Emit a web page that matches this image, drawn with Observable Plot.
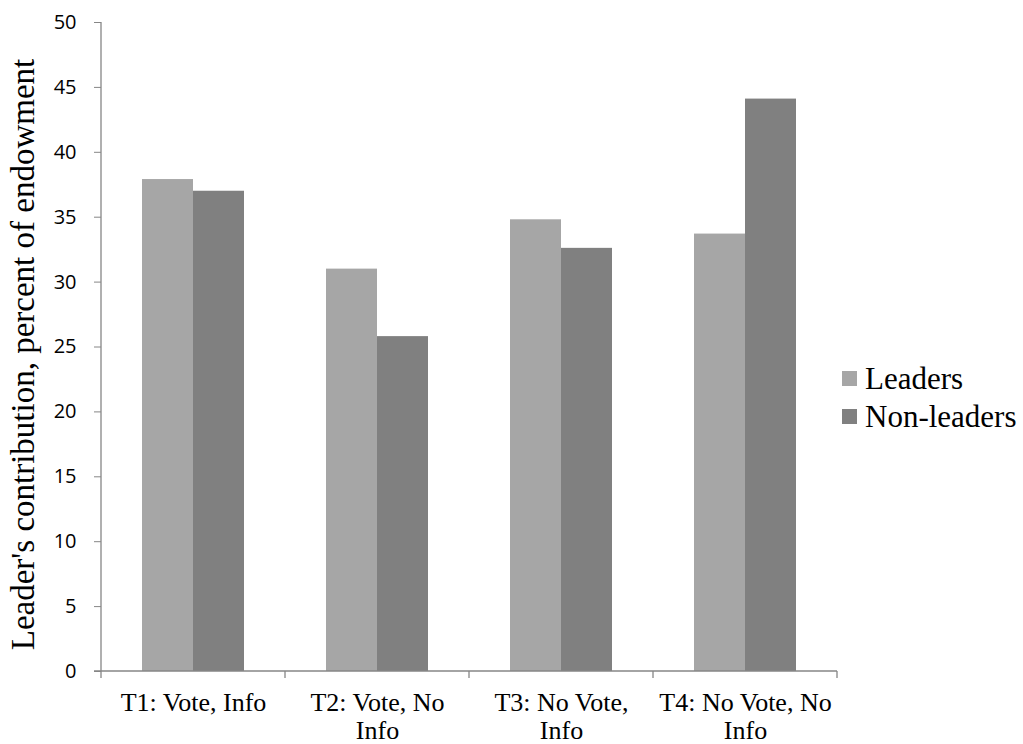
<!DOCTYPE html>
<html>
<head>
<meta charset="utf-8">
<script src="https://cdn.jsdelivr.net/npm/d3@7"></script>
<script src="https://cdn.jsdelivr.net/npm/@observablehq/plot@0.6"></script>
<style>
  html, body { margin: 0; padding: 0; background: #fff; }
  #chart svg { display: block; }
</style>
</head>
<body>
<div id="chart"></div>
<script>
// Treatments and the two groups compared in each
const categories = ["T1", "T2", "T3", "T4"];
const categoryLabels = ["T1: Vote, Info", "T2: Vote, No\nInfo", "T3: No Vote,\nInfo", "T4: No Vote, No\nInfo"];
const series = ["Leaders", "Non-leaders"];
const seriesColors = ["#a6a6a6", "#808080"];

// Mean contribution, percent of endowment
const leaders = [37.9, 31.0, 34.8, 33.7];
const nonLeaders = [37.0, 25.8, 32.6, 44.1];

const yTicks = [0, 5, 10, 15, 20, 25, 30, 35, 40, 45, 50];
const yTitle = "Leader's contribution, percent of endowment";

const rows = categories.flatMap((c, i) => [
  {category: c, series: series[0], value: leaders[i]},
  {category: c, series: series[1], value: nonLeaders[i]}
]);

const axisGray = "#868686";
const serif = "'Liberation Serif', 'Times New Roman', serif";

const plot = Plot.plot({
  width: 1023,
  height: 744,
  marginLeft: 101,
  marginRight: 186,
  marginTop: 22,
  marginBottom: 73,
  style: {background: "#fff", fontFamily: "'Open Sans', sans-serif", color: "#000"},
  fx: {domain: categories, padding: 0, label: null},
  x: {domain: series, paddingInner: 0, paddingOuter: 0.77, axis: null},
  y: {domain: [0, 50], label: null},
  color: {domain: series, range: seriesColors},
  marks: [
    Plot.barY(rows, {fx: "category", x: "series", y: "value", fill: "series"}),
    Plot.axisY({
      ticks: yTicks, tickSize: 7, tickPadding: 18, label: null,
      fontSize: 20, stroke: axisGray, fill: "#000"
    }),
    Plot.axisFx({
      anchor: "bottom", tickSize: 0, tickPadding: 19, label: null,
      fontSize: 26, fontFamily: serif, lineHeight: 1.1, fill: "#000",
      tickFormat: (d) => categoryLabels[categories.indexOf(d)]
    })
  ]
});

document.getElementById("chart").appendChild(plot);

// Axis lines, category separators, title and legend, placed from the plot's scales
const svg = d3.select(plot);
const fx = plot.scale("fx");
const y = plot.scale("y");
const y0 = y.apply(0);
const yTop = y.apply(50);
const left = fx.apply(categories[0]);
const right = fx.apply(categories[categories.length - 1]) + fx.bandwidth;

const g = svg.append("g").attr("stroke", axisGray).attr("stroke-width", 1.3).attr("fill", "none");
g.append("line").attr("x1", left).attr("x2", left).attr("y1", yTop).attr("y2", y0);
g.append("line").attr("x1", left - 7).attr("x2", right).attr("y1", y0).attr("y2", y0);
const bounds = categories.map(c => fx.apply(c)).concat([right]);
g.selectAll(null).data(bounds).join("line")
  .attr("x1", d => d).attr("x2", d => d)
  .attr("y1", y0).attr("y2", y0 + 7);

// Rotated y-axis title
svg.append("text")
  .attr("transform", `translate(34,${(yTop + y0) / 2 + 8}) rotate(-90)`)
  .attr("text-anchor", "middle")
  .attr("font-family", serif)
  .attr("font-size", 33)
  .attr("fill", "#000")
  .text(yTitle);

// Legend to the right of the bars
const legend = svg.append("g").attr("transform", `translate(${right + 5},0)`);
const legendBaselines = [389, 427];
series.forEach((s, i) => {
  const base = legendBaselines[i];
  legend.append("rect")
    .attr("x", 0).attr("y", base - 18).attr("width", 15).attr("height", 15)
    .attr("fill", seriesColors[i]);
  legend.append("text")
    .attr("x", 23).attr("y", base)
    .attr("text-anchor", "start")
    .attr("font-family", serif).attr("font-size", 31).attr("fill", "#000")
    .text(s);
});
</script>
</body>
</html>
